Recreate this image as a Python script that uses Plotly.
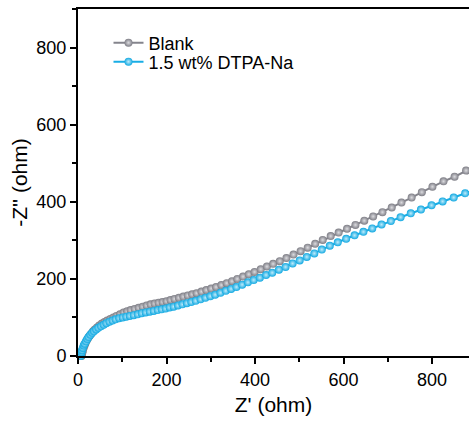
import plotly.graph_objects as go

# Blank series (Z', -Z'')
blank_x = [8, 9, 10, 11, 13, 15, 17, 20, 23, 26, 30, 34, 38, 43, 48, 54, 60, 66, 73, 80,
           87, 95, 103, 111, 119, 128, 137, 146, 155, 164, 173, 182, 191, 200, 209, 218,
           228, 238, 248, 258, 268, 279, 290, 301, 312, 324, 336, 348, 360, 373, 386, 399,
           413, 427, 441, 456, 471, 487, 503, 519, 536, 553, 571, 589, 608, 627, 647, 667,
           688, 709, 731, 754, 777, 801, 826, 851, 877, 903]
blank_y = [0, 5, 10, 15, 22, 28, 34, 41, 47, 52, 58, 64, 69, 74, 79, 84, 88, 92, 96, 100,
           104, 108, 113, 116, 119, 122, 125, 128, 131, 134, 136, 138, 140, 142, 145, 148,
           151, 154, 157, 160, 163, 167, 171, 175, 179, 184, 189, 194, 200, 206, 212, 218,
           225, 232, 239, 246, 254, 263, 272, 281, 291, 301, 311, 320, 330, 340, 351, 362,
           373, 385, 398, 411, 425, 439, 453, 465, 481, 495]

# 1.5 wt% DTPA-Na series
dtpa_x = [6, 7, 8, 9, 11, 13, 15, 18, 21, 24, 28, 32, 36, 41, 46, 52, 58, 64, 71, 78,
          85, 93, 101, 109, 117, 126, 135, 144, 153, 162, 171, 180, 189, 198, 207, 216,
          226, 236, 246, 256, 266, 277, 288, 299, 310, 322, 334, 346, 358, 371, 384, 397,
          411, 425, 439, 454, 469, 485, 501, 517, 534, 551, 569, 587, 606, 625, 645, 665,
          686, 707, 729, 752, 775, 799, 824, 849, 875, 901]
dtpa_y = [0, 5, 10, 15, 21, 27, 32, 38, 44, 49, 55, 60, 64, 69, 73, 77, 81, 85, 89, 92,
          95, 98, 100, 102, 104, 106, 108, 111, 113, 115, 117, 119, 121, 123, 126, 128,
          131, 134, 137, 140, 143, 147, 151, 155, 159, 164, 169, 174, 179, 185, 191, 197,
          203, 210, 216, 224, 231, 240, 248, 257, 266, 276, 286, 295, 304, 313, 322, 331,
          341, 350, 360, 370, 380, 391, 401, 411, 422, 433]

tick_vals = [0, 200, 400, 600, 800]
tick_text = ["0", "200", "400", "600", "800"]

FONT = "Liberation Sans, Arial, sans-serif"

fig = go.Figure()
fig.add_trace(go.Scatter(
    x=blank_x, y=blank_y, name="Blank", mode="lines+markers",
    line=dict(color="#84848c", width=2),
    marker=dict(size=8, color="#7e7e86", line=dict(width=0),
                gradient=dict(type="radial", color="#dcdce0")),
    cliponaxis=False, legend="legend",
))
fig.add_trace(go.Scatter(
    x=dtpa_x, y=dtpa_y, name="1.5 wt% DTPA-Na", mode="lines+markers",
    line=dict(color="#18ade5", width=2),
    marker=dict(size=8, color="#12a9e2", line=dict(width=0),
                gradient=dict(type="radial", color="#c0ebfa")),
    cliponaxis=False, legend="legend2",
))

axis_common = dict(
    showline=True, linecolor="black", linewidth=2,
    ticks="outside", ticklen=6, tickwidth=2, tickcolor="black",
    showgrid=False, zeroline=False,
    tickfont=dict(family=FONT, size=18, color="black"),
    tickvals=tick_vals, ticktext=tick_text,
    minor=dict(ticks="outside", ticklen=4, tickwidth=2, tickcolor="black", dtick=100, tick0=0),
)

fig.update_xaxes(range=[0, 883.6], mirror=True,
                 title=dict(text="Z' (ohm)", font=dict(family=FONT, size=21, color="black"), standoff=9),
                 **axis_common)
fig.update_yaxes(range=[0, 900],
                 title=dict(text="-Z'' (ohm)", font=dict(family=FONT, size=21, color="black"), standoff=3),
                 **axis_common)

leg = dict(xanchor="left", yanchor="middle",
           font=dict(family=FONT, size=18, color="black"),
           bgcolor="rgba(0,0,0,0)", itemwidth=30)

fig.update_layout(
    width=469, height=421,
    margin=dict(l=78, r=0, t=9, b=65),
    paper_bgcolor="white", plot_bgcolor="white",
    showlegend=True,
    legend=dict(x=0.078, y=(356 - 43) / 347, **leg),
    legend2=dict(x=0.078, y=(356 - 62) / 347, **leg),
)

fig.write_html("out.html")
